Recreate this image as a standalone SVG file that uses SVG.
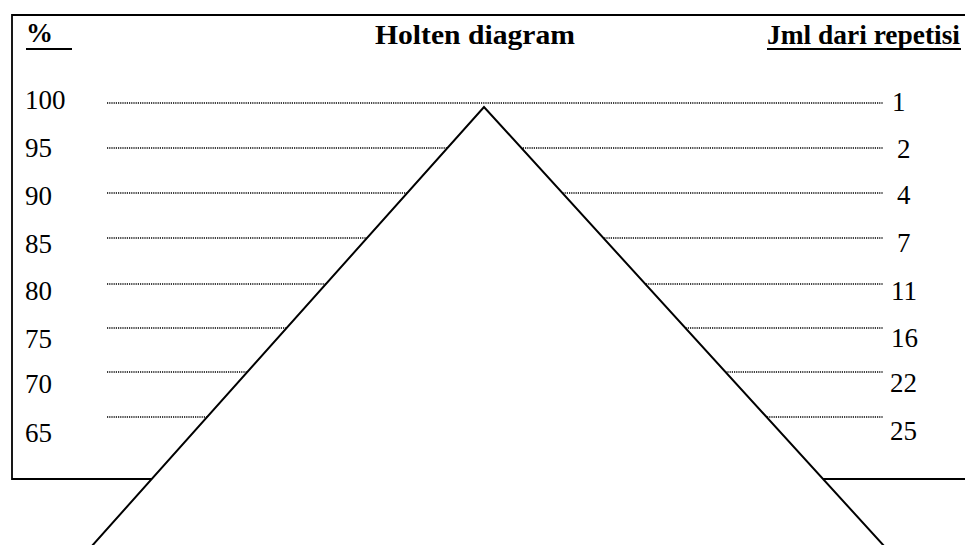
<svg xmlns="http://www.w3.org/2000/svg" width="965" height="545" viewBox="0 0 965 545">
<style>
text{font-family:"Liberation Serif","Times New Roman",serif;font-size:27px;fill:#000}
.b{font-weight:bold}
.dot{stroke:#000;stroke-width:1.4;stroke-dasharray:1.2 1;fill:none}
.frame{stroke:#000;stroke-width:1.8;fill:none}
</style>
<rect width="965" height="545" fill="#fff"/>
<g id="frame">
<path class="frame" d="M965 15 H12 V479 H965"/>
</g>
<g id="gridlines">
<line class="dot" x1="107" y1="103" x2="883" y2="103"/>
<line class="dot" x1="107" y1="148" x2="883" y2="148"/>
<line class="dot" x1="107" y1="193" x2="883" y2="193"/>
<line class="dot" x1="107" y1="238" x2="883" y2="238"/>
<line class="dot" x1="107" y1="284" x2="883" y2="284"/>
<line class="dot" x1="107" y1="328" x2="883" y2="328"/>
<line class="dot" x1="107" y1="372" x2="883" y2="372"/>
<line class="dot" x1="107" y1="417" x2="883" y2="417"/>
</g>
<g id="triangle">
<path d="M91 547 L484 107 L885 547 Z" fill="#fff" stroke="none"/>
<path d="M91 547 L484 107 L885 547" fill="none" stroke="#000" stroke-width="2"/>
</g>
<g id="header">
<text class="b" x="26" y="42">%</text>
<line x1="26" y1="49" x2="72" y2="49" stroke="#000" stroke-width="2"/>
<text class="b" x="375" y="44" textLength="200" lengthAdjust="spacingAndGlyphs">Holten diagram</text>
<text class="b" x="767" y="44" textLength="193" lengthAdjust="spacingAndGlyphs">Jml dari repetisi</text>
<line x1="767" y1="49" x2="961" y2="49" stroke="#000" stroke-width="2"/>
</g>
<g id="percent-labels">
<text x="25" y="109">100</text>
<text x="25" y="157">95</text>
<text x="25" y="205">90</text>
<text x="25" y="253">85</text>
<text x="25" y="300">80</text>
<text x="25" y="348">75</text>
<text x="25" y="393">70</text>
<text x="25" y="442">65</text>
</g>
<g id="repetition-labels">
<text x="892" y="111">1</text>
<text x="897" y="158">2</text>
<text x="897" y="204">4</text>
<text x="897" y="252">7</text>
<text x="891" y="300">11</text>
<text x="891" y="347">16</text>
<text x="890" y="392">22</text>
<text x="890" y="440">25</text>
</g>
</svg>
